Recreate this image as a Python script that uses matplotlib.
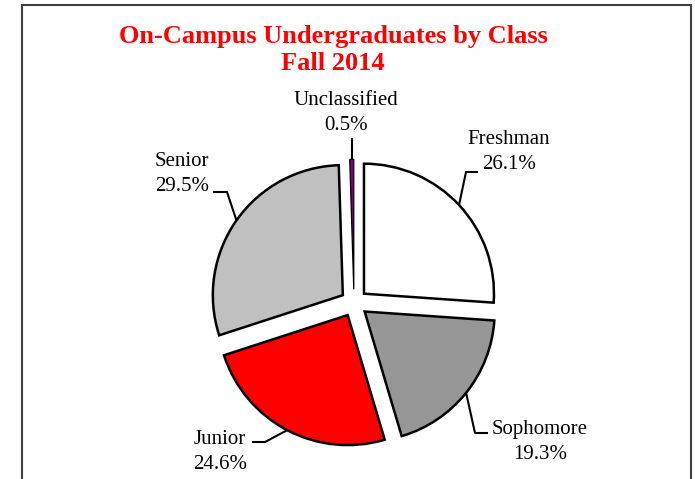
import matplotlib
matplotlib.use("Agg")
import matplotlib.pyplot as plt
import numpy as np
from matplotlib.patches import Rectangle

categories = ["Freshman", "Sophomore", "Junior", "Senior", "Unclassified"]
values = [26.1, 19.3, 24.6, 29.5, 0.5]
colors = ["#FFFFFF", "#969696", "#FF0000", "#C0C0C0", "#800080"]
title1 = "On-Campus Undergraduates by Class"
title2 = "Fall 2014"

W, H = 695, 479
CX, CY, R = 354, 303, 130  # pixel layout of pie

plt.rcParams['font.family'] = ['Liberation Serif', 'DejaVu Serif']
fig = plt.figure(figsize=(W/100, H/100), dpi=100)
ax = fig.add_axes([0, 0, 1, 1])
ax.axis('off')

def d(px, py):
    return ((px-CX)/R, (CY-py)/R)

wedges, _ = ax.pie(values, colors=colors, startangle=90, counterclock=False,
                   explode=[0.105]*5, radius=1.0,
                   wedgeprops=dict(edgecolor='black', linewidth=1.8))
wedges[-1].set_linewidth(0.9)
ax.set_aspect('auto')
ax.set_xlim(-CX/R, (W-CX)/R)
ax.set_ylim(-(H-CY)/R, CY/R)

# label layout: text center, elbow, horizontal end (pixels)
layout = {
    "Freshman": ((509, 152), (466, 172), (478, 172)),
    "Sophomore": ((540, 442), (475, 433), (488, 433)),
    "Junior": ((220, 452), (265, 442), (252, 442)),
    "Senior": ((182, 174), (227, 192), (213, 192)),
    "Unclassified": ((346, 113), (351, 138), None),
}

for w, cat, v in zip(wedges, categories, values):
    tc, elbow, end = layout[cat]
    mid = np.deg2rad((w.theta1 + w.theta2) / 2)
    cx, cy = w.center
    p = (cx + w.r*np.cos(mid), cy + w.r*np.sin(mid))
    e = d(*elbow)
    if end is None:
        xs = [p[0], p[0]]; ys = [p[1], e[1]]
    else:
        en = d(*end)
        xs = [p[0], e[0], en[0]]; ys = [p[1], e[1], en[1]]
    ax.plot(xs, ys, color='black', lw=1.5, solid_capstyle='butt')
    t = d(*tc)
    ax.text(t[0], t[1], f"{cat}\n{v:.1f}%", ha='center', va='center',
            fontsize=15, linespacing=1.4, color='black')

fig.text(333/W, 1-36/H, title1, ha='center', va='center', fontsize=19,
         fontweight='bold', color='#FF0000')
fig.text(333/W, 1-64/H, title2, ha='center', va='center', fontsize=19,
         fontweight='bold', color='#FF0000')

fig.patches.append(Rectangle((22/W, -0.1), (691-22)/W, 1.1 - 5/H, transform=fig.transFigure,
                             fill=False, edgecolor='#404040', linewidth=1.5))

fig.savefig("out.png", dpi=100)
